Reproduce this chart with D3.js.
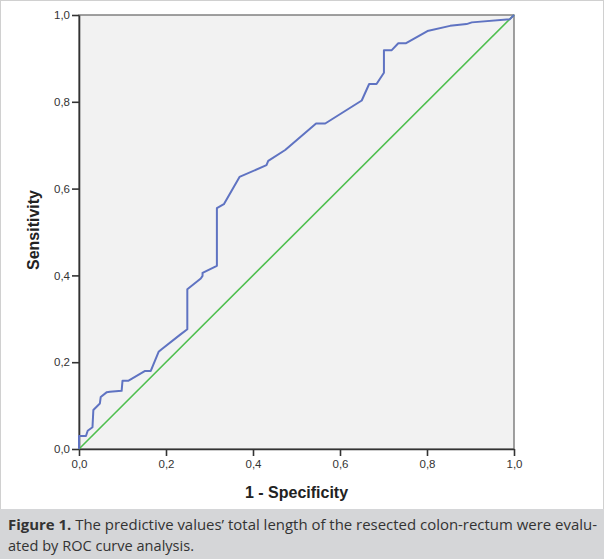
<!DOCTYPE html>
<html>
<head>
<meta charset="utf-8">
<script src="https://cdn.jsdelivr.net/npm/d3@7"></script>
<style>
  body { margin: 0; background: #fff; }
  svg text { font-family: "Liberation Sans", Arial, sans-serif; }
</style>
</head>
<body>
<div id="chart"></div>
<script>
// ROC curve: 1 - specificity / sensitivity
var fpr = [0, 0, 0.016, 0.02, 0.031, 0.033, 0.048, 0.05, 0.064, 0.071, 0.098, 0.1, 0.113, 0.152, 0.165, 0.183, 0.19,
  0.232, 0.249, 0.249, 0.28, 0.284, 0.284, 0.317, 0.317, 0.333, 0.369, 0.431, 0.435, 0.474, 0.545, 0.566,
  0.65, 0.667, 0.684, 0.701, 0.701, 0.719, 0.734, 0.752, 0.801, 0.853, 0.891, 0.903, 0.99, 1];
var tpr = [0, 0.03, 0.03, 0.042, 0.05, 0.09, 0.105, 0.12, 0.131, 0.132, 0.134, 0.157, 0.157, 0.18, 0.18, 0.224, 0.23,
  0.263, 0.276, 0.368, 0.393, 0.399, 0.406, 0.422, 0.555, 0.564, 0.627, 0.654, 0.664, 0.689, 0.75, 0.75,
  0.803, 0.841, 0.841, 0.867, 0.919, 0.919, 0.935, 0.935, 0.963, 0.975, 0.979, 0.983, 0.99, 1];
var refX = [0, 1];
var refY = [0, 1];
var tickVals = [0, 0.2, 0.4, 0.6, 0.8, 1.0];
var tickLabels = ["0,0", "0,2", "0,4", "0,6", "0,8", "1,0"];
var xTitle = "1 - Specificity";
var yTitle = "Sensitivity";
var captionBold = "Figure 1.";
var captionLine1 = " The predictive values’ total length of the resected colon-rectum were evalu-";
var captionLine2 = "ated by ROC curve analysis.";

var W = 604, H = 559;
var margin = {top: 15, right: 90, bottom: 110, left: 79},
  width = W - margin.left - margin.right,
  height = H - margin.top - margin.bottom;

var svg = d3.select("#chart").append("svg")
  .attr("width", W)
  .attr("height", H);

// outer frame
svg.append("rect")
  .attr("x", 0.5).attr("y", 0.5)
  .attr("width", W - 1).attr("height", H - 1)
  .attr("fill", "#fff")
  .attr("stroke", "#d0d0d0");

var g = svg.append("g")
  .attr("transform", "translate(" + margin.left + "," + margin.top + ")");

var x = d3.scaleLinear().domain([0, 1]).range([0, width]);
var y = d3.scaleLinear().domain([0, 1]).range([height, 0]);

g.append("rect")
  .attr("width", width).attr("height", height)
  .attr("fill", "#f2f2f2")
  .attr("stroke", "#6e6e6e")
  .attr("stroke-width", 1.3);

var fmt = function(d, i) { return tickLabels[i]; };

var xAxis = g.append("g")
  .attr("transform", "translate(0," + height + ")")
  .call(d3.axisBottom(x).tickValues(tickVals).tickFormat(fmt).tickSizeInner(7).tickSizeOuter(0).tickPadding(4));
var yAxis = g.append("g")
  .call(d3.axisLeft(y).tickValues(tickVals).tickFormat(fmt).tickSizeInner(7).tickSizeOuter(0).tickPadding(2));

[xAxis, yAxis].forEach(function(a) {
  a.select(".domain").attr("stroke", "#333").attr("stroke-width", 1.6);
  a.selectAll(".tick line").attr("stroke", "#333").attr("stroke-width", 1.6);
  a.selectAll(".tick text").attr("fill", "#333").style("font-size", "11.5px");
});

// reference diagonal
var line = d3.line().x(function(d) { return x(d[0]); }).y(function(d) { return y(d[1]); });

g.append("path")
  .datum(d3.zip(refX, refY))
  .attr("d", line)
  .attr("fill", "none")
  .attr("stroke", "#4fbf4f")
  .attr("stroke-width", 1.6);

g.append("path")
  .datum(d3.zip(fpr, tpr))
  .attr("d", line)
  .attr("fill", "none")
  .attr("stroke", "#5f73c2")
  .attr("stroke-width", 2)
  .attr("stroke-linejoin", "round");

// axis titles
svg.append("text")
  .attr("x", margin.left + width / 2)
  .attr("y", 498)
  .attr("text-anchor", "middle")
  .attr("fill", "#222")
  .style("font-size", "16px")
  .style("font-weight", "bold")
  .text(xTitle);

svg.append("text")
  .attr("transform", "translate(39," + (margin.top + height / 2 - 2) + ") rotate(-90)")
  .attr("text-anchor", "middle")
  .attr("fill", "#222")
  .style("font-size", "16px")
  .style("font-weight", "bold")
  .text(yTitle);

// caption
svg.append("rect")
  .attr("x", 0).attr("y", 509)
  .attr("width", W).attr("height", H - 509)
  .attr("fill", "#d5d6d8");

var cap = svg.append("text")
  .attr("x", 8).attr("y", 530)
  .attr("fill", "#333")
  .attr("textLength", 589)
  .attr("lengthAdjust", "spacingAndGlyphs")
  .style("font-family", "'Open Sans', sans-serif")
  .style("font-size", "14.5px");
cap.append("tspan").style("font-weight", "bold").text(captionBold);
cap.append("tspan").text(captionLine1);

svg.append("text")
  .attr("x", 8).attr("y", 551)
  .attr("fill", "#333")
  .attr("textLength", 186)
  .attr("lengthAdjust", "spacingAndGlyphs")
  .style("font-family", "'Open Sans', sans-serif")
  .style("font-size", "14.5px")
  .text(captionLine2);
</script>
</body>
</html>
